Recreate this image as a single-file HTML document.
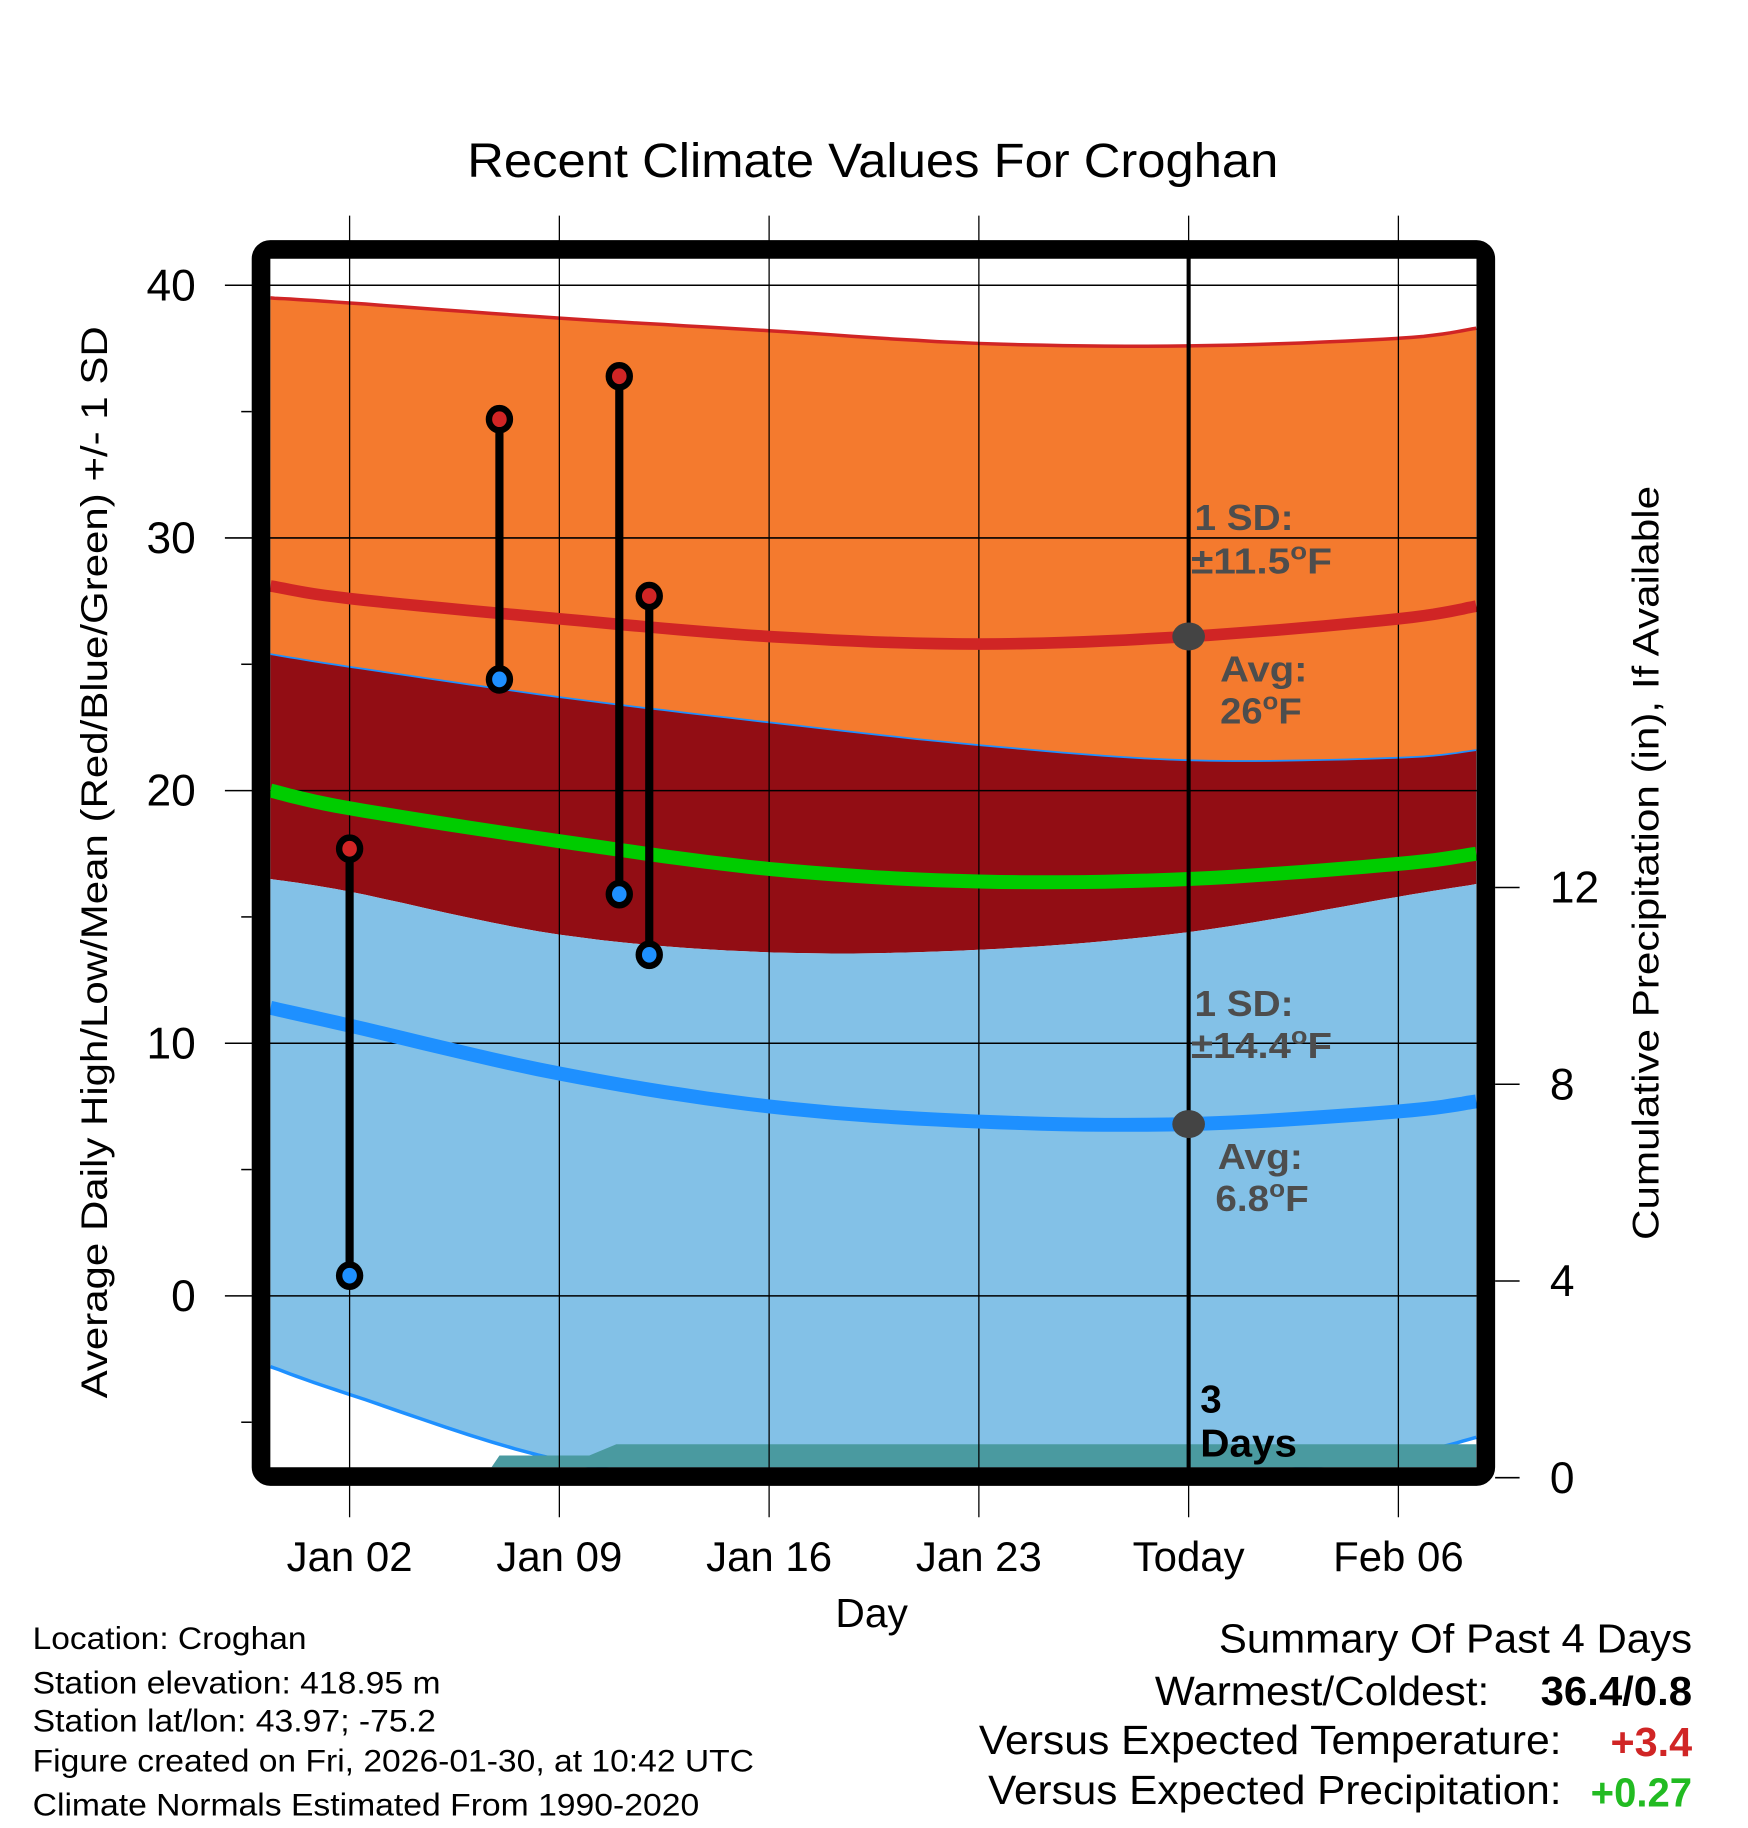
<!DOCTYPE html>
<html><head><meta charset="utf-8"><style>
html,body{margin:0;padding:0;background:#fff;}
svg{display:block;font-family:"Liberation Sans",Arial,sans-serif;}
</style></head><body>
<svg id="chart" width="1748" height="1828" viewBox="0 0 1500 1568.6" preserveAspectRatio="none" xmlns="http://www.w3.org/2000/svg">
<defs><clipPath id="plotclip"><rect x="232" y="222" width="1035" height="1037"/></clipPath></defs>
<g id="plot" clip-path="url(#plotclip)"></g>
<g id="overlay"></g>
</svg>
<script>
// ---- data ----
const normDays = [-0.64, 2, 9, 16, 23, 30, 37, 39.6];
const hiPlusSD  = [39.5, 39.3, 38.7, 38.2, 37.7, 37.6, 37.9, 38.3];
const hiAvg     = [28.1, 27.6, 26.8, 26.1, 25.8, 26.1, 26.8, 27.3];
const hiMinusSD = [25.4, 24.9, 23.7, 22.7, 21.8, 21.2, 21.3, 21.6];
const meanAvg   = [20.0, 19.3, 18.0, 16.9, 16.4, 16.5, 17.1, 17.5];
const loPlusSD  = [16.5, 16.0, 14.3, 13.6, 13.7, 14.4, 15.8, 16.3];
const loAvg     = [11.4, 10.7, 8.8, 7.5, 6.9, 6.8, 7.3, 7.7];
const loMinusSD = [-2.8, -3.9, -6.5, -7.5, -7.8, -7.3, -6.3, -5.6];
const obsDays  = [2, 7, 11, 12];
const obsHigh  = [17.7, 34.7, 36.4, 27.7];
const obsLow   = [0.8, 24.4, 15.9, 13.5];
const precipDays = [-0.64, 6.5, 7.0, 10.0, 10.9, 39.6];
const precipVals = [0, 0, 0.45, 0.45, 0.68, 0.68];
const xTickDays = [2, 9, 16, 23, 30, 37];
const xTickLabels = ["Jan 02","Jan 09","Jan 16","Jan 23","Today","Feb 06"];
const yTicks = [0, 10, 20, 30, 40];
const yMinor = [-5, 5, 15, 25, 35];
const pTicks = [0, 4, 8, 12];
const todayDay = 30;

// ---- axes ----
const X = d => 300 + (d - 2) * 25.714;
const Y = v => 1112 - 21.68 * v;
const P = v => 1268 - 42.2 * v;
const NS = "http://www.w3.org/2000/svg";
function mk(tag, attrs, parent, text){
  const e = document.createElementNS(NS, tag);
  for (const k in attrs) e.setAttribute(k, attrs[k]);
  if (text !== undefined) e.textContent = text;
  parent.appendChild(e); return e;
}
function smoothPts(days, vals){
  const out=[];
  for(let i=0;i<days.length-1;i++){
    const p0=i>0?i-1:i,p3=i+2<days.length?i+2:i+1;
    for(let t=0;t<1;t+=0.1){
      const f=(a)=>{const v0=a[p0],v1=a[i],v2=a[i+1],v3=a[p3];
        return 0.5*((2*v1)+(-v0+v2)*t+(2*v0-5*v1+4*v2-v3)*t*t+(-v0+3*v1-3*v2+v3)*t*t*t);};
      out.push([X(f(days)),Y(f(vals))]);
    }
  }
  out.push([X(days[days.length-1]),Y(vals[vals.length-1])]);
  return out;
}
const str = pts => pts.map(p=>p[0].toFixed(1)+","+p[1].toFixed(1)).join(" ");
function band(top,bot){ const a=smoothPts(normDays,top), b=smoothPts(normDays,bot).reverse(); return str(a.concat(b)); }
const plot = document.getElementById('plot');
const ov = document.getElementById('overlay');

let e;
e=mk('polygon',{points:band(hiPlusSD,hiMinusSD),fill:'#f47a2e'},plot);
 
e=mk('polygon',{points:band(hiMinusSD,loPlusSD),fill:'#920d14'},plot);
 
e=mk('polygon',{points:band(loPlusSD,loMinusSD),fill:'#83c1e7'},plot);
 
e=mk('polyline',{points:str(smoothPts(normDays,hiPlusSD)),fill:'none',stroke:'#d02525','stroke-width':3},plot);
 
e=mk('polyline',{points:str(smoothPts(normDays,hiMinusSD)),fill:'none',stroke:'#1e90ff','stroke-width':1.5},plot);
 
e=mk('polyline',{points:str(smoothPts(normDays,loMinusSD)),fill:'none',stroke:'#1e90ff','stroke-width':3},plot);
 
// precip (on top of band edge)
const pp=[[X(precipDays[0]),P(0)]];
precipDays.forEach((d,i)=>pp.push([X(d),P(precipVals[i])]));
pp.push([X(precipDays[precipDays.length-1]),P(0)]);
e=mk('polygon',{points:str(pp),fill:'#4a9aa0'},plot);
 
// gridlines
yTicks.forEach(v=>{
  e=mk('line',{x1:193,x2:1267,y1:Y(v),y2:Y(v),stroke:'#000','stroke-width':1.3},ov);
   
});
xTickDays.forEach(d=>{
  e=mk('line',{x1:X(d),x2:X(d),y1:185,y2:1302,stroke:'#000','stroke-width':1.1},ov);
   
});
e=mk('polyline',{points:str(smoothPts(normDays,hiAvg)),fill:'none',stroke:'#d02525','stroke-width':10},ov);
 
e=mk('polyline',{points:str(smoothPts(normDays,meanAvg)),fill:'none',stroke:'#00cc00','stroke-width':12},ov);
 
e=mk('polyline',{points:str(smoothPts(normDays,loAvg)),fill:'none',stroke:'#1e90ff','stroke-width':12},ov);
 
e=mk('line',{x1:X(todayDay),x2:X(todayDay),y1:212,y2:1262,stroke:'#000','stroke-width':3.5},ov);
 
const interp=(arr,d)=>{for(let i=0;i<normDays.length-1;i++){if(d>=normDays[i]&&d<=normDays[i+1]){const t=(d-normDays[i])/(normDays[i+1]-normDays[i]);return arr[i]+t*(arr[i+1]-arr[i]);}}return arr[0];};
e=mk('ellipse',{cx:X(todayDay),cy:Y(interp(hiAvg,todayDay)),rx:14,ry:12,fill:'#444'},ov);
 
e=mk('ellipse',{cx:X(todayDay),cy:Y(interp(loAvg,todayDay)),rx:14,ry:12,fill:'#444'},ov);
 
obsDays.forEach((d,i)=>{
  e=mk('line',{x1:X(d),x2:X(d),y1:Y(obsHigh[i]),y2:Y(obsLow[i]),stroke:'#000','stroke-width':7},ov);
   
  e=mk('ellipse',{cx:X(d),cy:Y(obsHigh[i]),rx:9,ry:9.5,fill:'#d02525',stroke:'#000','stroke-width':5.5},ov);
   
  e=mk('ellipse',{cx:X(d),cy:Y(obsLow[i]),rx:9,ry:9.5,fill:'#1e90ff',stroke:'#000','stroke-width':5.5},ov);
   
});
e=mk('rect',{x:224,y:214,width:1051,height:1053,rx:8,fill:'none',stroke:'#000','stroke-width':16},ov);
 
yTicks.forEach(v=>{
  e=mk('text',{x:168,y:Y(v)+13,'text-anchor':'end','font-size':38},ov,String(v));
   
});
yMinor.forEach(v=>{
  e=mk('line',{x1:207,x2:216,y1:Y(v),y2:Y(v),stroke:'#000','stroke-width':1.3},ov);
   
});
pTicks.forEach(v=>{
  e=mk('line',{x1:1283,x2:1304,y1:P(v),y2:P(v),stroke:'#000','stroke-width':1.3},ov);
   
  e=mk('text',{x:1330,y:P(v)+13,'font-size':38},ov,String(v));
   
});
xTickDays.forEach((d,i)=>{
  e=mk('text',{x:X(d),y:1348,'text-anchor':'middle','font-size':36},ov,xTickLabels[i]);
   
});
</script>
<svg style="position:absolute;left:0;top:0" width="1748" height="1828" viewBox="0 0 1500 1568.6" preserveAspectRatio="none" xmlns="http://www.w3.org/2000/svg" font-family="Liberation Sans, Arial, sans-serif">
<text x="401" y="152" font-size="41" textLength="696" lengthAdjust="spacingAndGlyphs">Recent Climate Values For Croghan</text>
<text transform="translate(92,740) rotate(-90)" x="-460" font-size="32" textLength="920" lengthAdjust="spacingAndGlyphs">Average Daily High/Low/Mean (Red/Blue/Green) +/- 1 SD</text>
<text transform="translate(1423,741) rotate(-90)" x="-323" font-size="32" textLength="647" lengthAdjust="spacingAndGlyphs">Cumulative Precipitation (in), If Available</text>
<text x="748" y="1396" text-anchor="middle" font-size="35">Day</text>
<g fill="#4d4d4d" font-weight="bold" font-size="31">
<text x="1025" y="455" textLength="85" lengthAdjust="spacingAndGlyphs">1 SD:</text>
<text x="1022" y="492" textLength="121" lengthAdjust="spacingAndGlyphs">±11.5<tspan font-size="21" dy="-12">o</tspan><tspan dy="12">F</tspan></text>
<text x="1047" y="585" textLength="75" lengthAdjust="spacingAndGlyphs">Avg:</text>
<text x="1047" y="621" textLength="70" lengthAdjust="spacingAndGlyphs">26<tspan font-size="21" dy="-12">o</tspan><tspan dy="12">F</tspan></text>
<text x="1025" y="872" textLength="85" lengthAdjust="spacingAndGlyphs">1 SD:</text>
<text x="1022" y="908" textLength="121" lengthAdjust="spacingAndGlyphs">±14.4<tspan font-size="21" dy="-12">o</tspan><tspan dy="12">F</tspan></text>
<text x="1045" y="1003" textLength="73" lengthAdjust="spacingAndGlyphs">Avg:</text>
<text x="1043" y="1039" textLength="80" lengthAdjust="spacingAndGlyphs">6.8<tspan font-size="21" dy="-12">o</tspan><tspan dy="12">F</tspan></text>
</g>
<text x="1030" y="1212" font-size="33" font-weight="bold">3</text>
<text x="1030" y="1250" font-size="33" font-weight="bold" textLength="83" lengthAdjust="spacingAndGlyphs">Days</text>
<g font-size="27">
<text x="28" y="1415" textLength="235" lengthAdjust="spacingAndGlyphs">Location: Croghan</text>
<text x="28" y="1453" textLength="350" lengthAdjust="spacingAndGlyphs">Station elevation: 418.95 m</text>
<text x="28" y="1486" textLength="346" lengthAdjust="spacingAndGlyphs">Station lat/lon: 43.97; -75.2</text>
<text x="28" y="1520" textLength="619" lengthAdjust="spacingAndGlyphs">Figure created on Fri, 2026-01-30, at 10:42 UTC</text>
<text x="28" y="1558" textLength="572" lengthAdjust="spacingAndGlyphs">Climate Normals Estimated From 1990-2020</text>
</g>
<g font-size="35">
<text x="1046" y="1418" textLength="406" lengthAdjust="spacingAndGlyphs">Summary Of Past 4 Days</text>
<text x="991" y="1463" textLength="287" lengthAdjust="spacingAndGlyphs">Warmest/Coldest:</text>
<text x="1322" y="1463" font-weight="bold" textLength="130" lengthAdjust="spacingAndGlyphs">36.4/0.8</text>
<text x="840" y="1505" textLength="500" lengthAdjust="spacingAndGlyphs">Versus Expected Temperature:</text>
<text x="1382" y="1507" font-weight="bold" fill="#d02525" textLength="70" lengthAdjust="spacingAndGlyphs">+3.4</text>
<text x="848" y="1548" textLength="492" lengthAdjust="spacingAndGlyphs">Versus Expected Precipitation:</text>
<text x="1365" y="1550" font-weight="bold" fill="#22bb22" textLength="87" lengthAdjust="spacingAndGlyphs">+0.27</text>
</g>
</svg>
</body></html>
